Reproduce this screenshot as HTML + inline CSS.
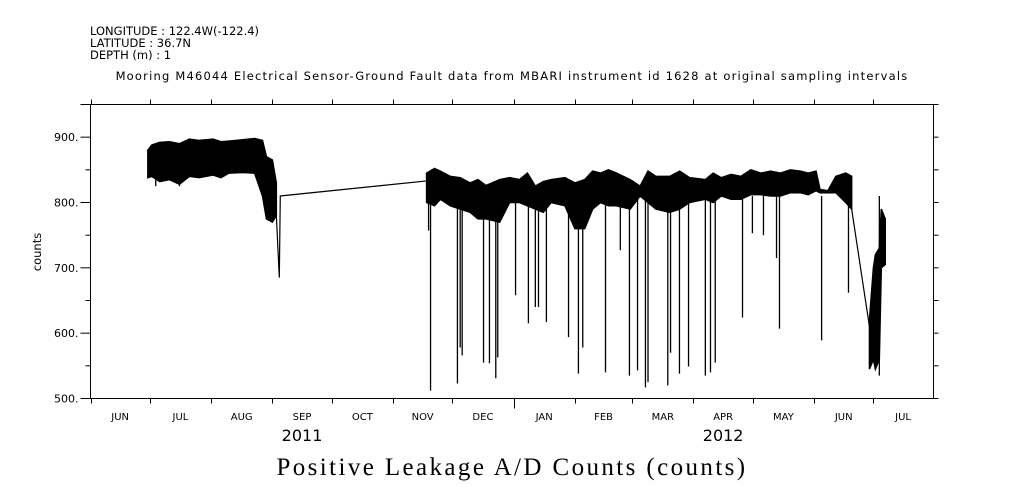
<!DOCTYPE html>
<html><head><meta charset="utf-8"><style>
html,body{margin:0;padding:0;background:#fff;}
svg{display:block;}
text{font-family:"DejaVu Sans","Liberation Sans",sans-serif;fill:#000;}
</style></head><body>
<svg id="chart" width="1009" height="504" viewBox="0 0 1009 504" xmlns="http://www.w3.org/2000/svg">
<g font-size="11.5">
<text x="90" y="35">LONGITUDE : 122.4W(-122.4)</text>
<text x="90" y="47">LATITUDE : 36.7N</text>
<text x="90" y="59">DEPTH (m) : 1</text>
</g>
<text x="512" y="80" font-size="11.5" text-anchor="middle" letter-spacing="1.2">Mooring M46044 Electrical Sensor-Ground Fault data from MBARI instrument id 1628 at original sampling intervals</text>
<text x="0" y="0" font-size="11.5" text-anchor="middle" transform="translate(41,252) rotate(-90)">counts</text>
<text x="512" y="475" font-size="25" letter-spacing="2.4" text-anchor="middle" style="font-family:'Liberation Serif','DejaVu Serif',serif">Positive Leakage A/D Counts (counts)</text>
<g id="axes"></g>
<g id="series"></g>
</svg>
<script>
// ---- data (day index from 2011-06-01, value in counts) ----
const monthLabels = ["JUN","JUL","AUG","SEP","OCT","NOV","DEC","JAN","FEB","MAR","APR","MAY","JUN","JUL"];
const monthStartDays = [0,30,61,92,122,153,183,214,245,274,305,335,366,396];
const yearLabels = ["2011","2012"];
const yearDays = [107,320];
const yTicks = [500,600,700,800,900];
const yTickLabels = ["500.","600.","700.","800.","900."];
const yMinorTicks = [550,650,750,850,950];

const seg1Days =   [29, 31, 35, 40, 45, 50, 55, 62, 66, 70, 77, 83, 87, 89, 92, 94];
const seg1Top =    [880,888,892,893,890,897,895,897,893,894,896,898,895,870,865,830];
const seg1Bottom = [838,840,832,835,828,840,838,842,838,845,846,845,810,775,770,780];

const gapDays =   [94, 95.5, 96, 170];
const gapValues = [780, 685, 810, 833];

const seg2Days =   [170,174,177,182,187,192,196,200,207,212,217,221,225,229,233,240,245,250,254,258,262,266,273,278,282,286,293,298,303,311,315,319,324,329,334,339,344,349,354,359,363,367,369,373,377,382,385];
const seg2Top =    [845,852,848,840,838,830,835,826,835,838,835,845,825,832,835,838,830,835,848,845,850,845,835,825,848,840,840,848,838,835,845,838,843,840,850,845,848,845,850,848,845,848,820,818,840,845,840];
const seg2Bottom = [800,795,805,795,790,785,775,775,770,800,800,795,790,785,800,795,760,760,790,800,795,795,790,810,800,790,785,790,800,805,800,810,805,805,812,812,810,810,815,815,812,818,815,815,815,800,790];

const dropDays =   [385, 395];
const dropValues = [790, 590];

const seg3Days =   [394, 396, 397, 399, 400, 402];
const seg3Top =    [620, 700, 720, 730, 790, 775];
const seg3Bottom = [545, 560, 545, 560, 700, 705];

const spikeDays = [33,45,172,171,185.6,187,188,198.8,201.8,205,206,215,221.5,225,226.6,230.6,241.8,246.8,249,260.5,268,272.6,276.7,280.7,282,292,293.4,297.9,302.5,311,313.6,316,329.8,334.8,340.4,348.5,347,369.8,383.4,399];
const spikeMins = [825,825,512,757,523,578,566,555,554,531,563,658,615,640,640,617,594,538,578,540,727,535,543,517,525,520,570,538,549,535,540,555,624,753,750,607,715,589,662,535];

// ---- axes ----
const X0=90.5, X1=933.5, Y0=398.5, Y1=104.5, PXD=1.977;
const xs = d => X0 + d*PXD;
const ys = v => Y0 - (v-500)*(Y0-Y1)/450;
const NS="http://www.w3.org/2000/svg";
function mk(tag, attrs, parent){const e=document.createElementNS(NS,tag);for(const k in attrs)e.setAttribute(k,attrs[k]);parent.appendChild(e);return e;}
const ax=document.getElementById('axes');
const frame=mk('rect',{x:X0,y:Y1,width:X1-X0,height:Y0-Y1,fill:'none',stroke:'#000','stroke-width':1},ax);


yTicks.forEach((v,i)=>{
  const t=mk('line',{x1:X0-10,x2:X0,y1:ys(v),y2:ys(v),stroke:'#000'},ax);
  
  
  const r=mk('line',{x1:X1,x2:X1+5,y1:ys(v),y2:ys(v),stroke:'#000'},ax);
  
  
  const l=mk('text',{x:X0-12,y:ys(v)+4,'font-size':11,'text-anchor':'end'},ax);
  l.textContent=yTickLabels[i];
  
  
});
yMinorTicks.forEach(v=>{
  const len = v===950?10:5;
  const t=mk('line',{x1:X0-len,x2:X0,y1:ys(v),y2:ys(v),stroke:'#000'},ax);
  
  
  const r=mk('line',{x1:X1,x2:X1+5,y1:ys(v),y2:ys(v),stroke:'#000'},ax);
  
  
});
monthStartDays.forEach((d,i)=>{
  const x=Math.round(xs(d))+0.5;
  const len = d===214?10:5;
  const t=mk('line',{x1:x,x2:x,y1:Y0,y2:Y0+len,stroke:'#000'},ax);
  
  
  const tt=mk('line',{x1:x,x2:x,y1:Y1-5,y2:Y1,stroke:'#000'},ax);
  
  
  const next = i+1<monthStartDays.length ? monthStartDays[i+1] : d+30;
  const l=mk('text',{x:xs((d+next)/2),y:420,'font-size':10,'text-anchor':'middle'},ax);
  l.textContent=monthLabels[i];
  
  
});
yearLabels.forEach((y,i)=>{
  const l=mk('text',{x:xs(yearDays[i]),y:441,'font-size':16,'text-anchor':'middle'},ax);
  l.textContent=y;
  
  
});
// ---- series ----
const sg=document.getElementById('series');
function band(days,top,bot,name){
  let pts=days.map((d,i)=>xs(d)+','+ys(top[i]));
  for(let i=days.length-1;i>=0;i--)pts.push(xs(days[i])+','+ys(bot[i]));
  const p=mk('polygon',{points:pts.join(' '),fill:'#000',stroke:'#000','stroke-width':1.5},sg);
  
  
}
function line(days,vals,name){
  const p=mk('polyline',{points:days.map((d,i)=>xs(d)+','+ys(vals[i])).join(' '),fill:'none',stroke:'#000','stroke-width':1.2},sg);
  
  
}
band(seg1Days,seg1Top,seg1Bottom,'band-2011-summer');
line(gapDays,gapValues,'gap-connector');
band(seg2Days,seg2Top,seg2Bottom,'band-nov-jun');
line(dropDays,dropValues,'drop-connector');
band(seg3Days,seg3Top,seg3Bottom,'band-2012-june');
spikeDays.forEach((d,i)=>{
  const x=xs(d);
  const topV = d<100 ? 840 : 810;
  const s=mk('line',{x1:x,x2:x,y1:ys(topV),y2:ys(spikeMins[i]),stroke:'#000','stroke-width':1.3},sg);
  
  
});
</script>
</body></html>
